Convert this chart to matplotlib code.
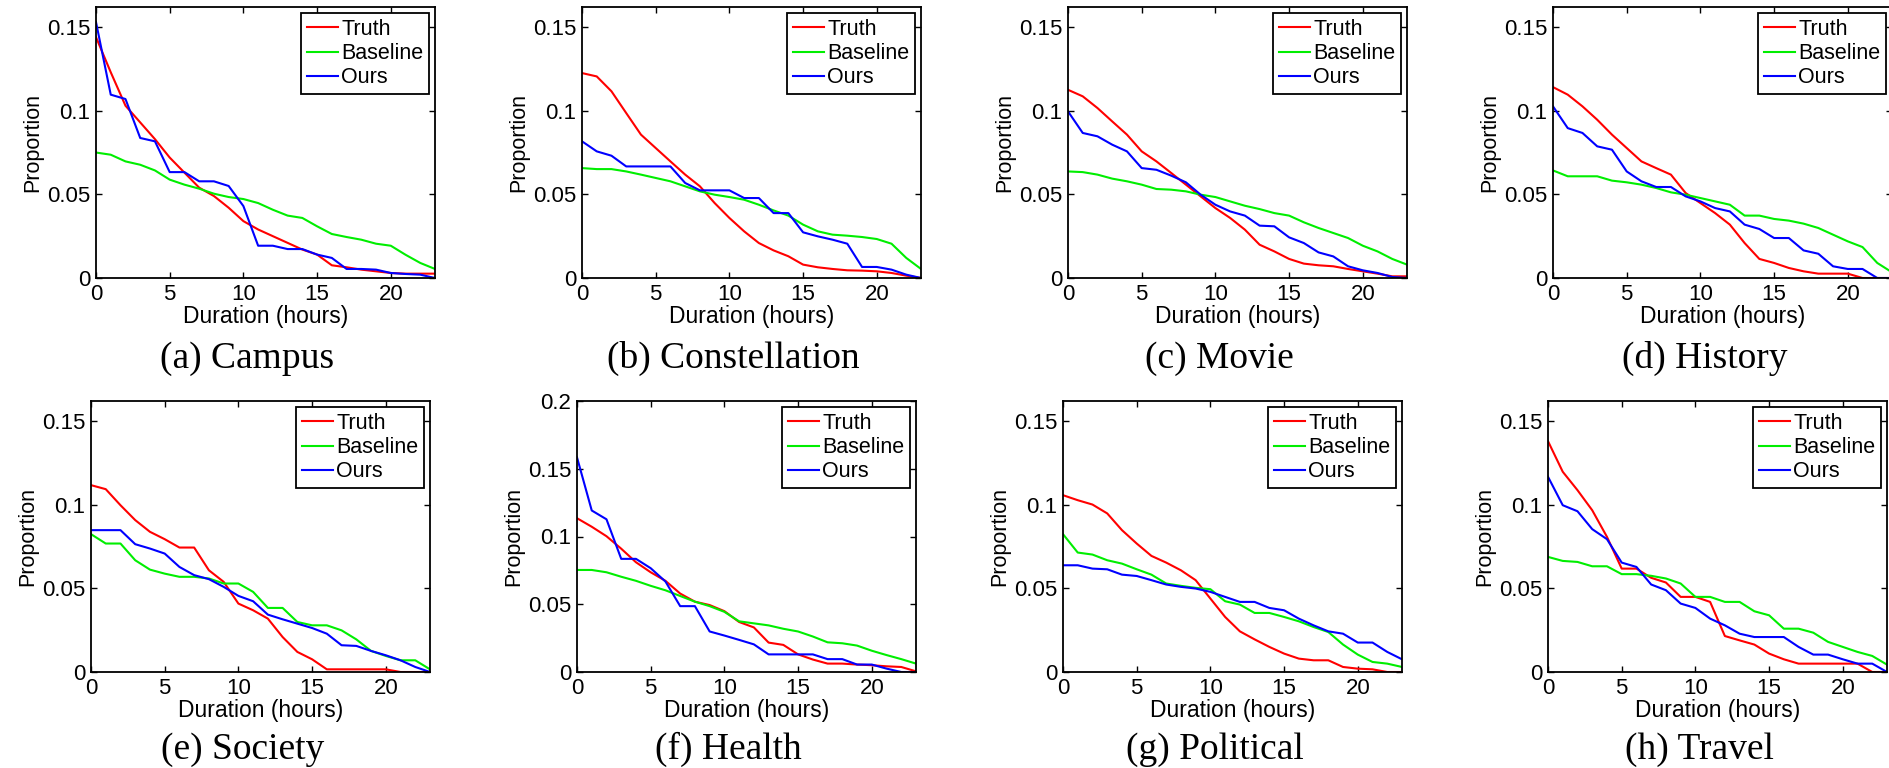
import matplotlib
matplotlib.use('Agg')
import matplotlib.pyplot as plt
from matplotlib.ticker import FuncFormatter

# hours 0..23
hours = list(range(24))

# (a) Campus
truth_a = [0.144, 0.123, 0.103, 0.093, 0.083, 0.072, 0.063, 0.054, 0.049, 0.042, 0.034, 0.029,
           0.025, 0.021, 0.017, 0.014, 0.0076, 0.0064, 0.005, 0.004, 0.003, 0.0026, 0.0026, 0.0026]
base_a = [0.075, 0.0737, 0.0697, 0.0677, 0.0643, 0.0588, 0.0558, 0.0534, 0.0504, 0.0484, 0.0472, 0.0448,
          0.0408, 0.0373, 0.0359, 0.0309, 0.0263, 0.0245, 0.0229, 0.0205, 0.0193, 0.0139, 0.009, 0.0054]
ours_a = [0.153, 0.1096, 0.107, 0.0837, 0.0817, 0.0633, 0.0633, 0.0578, 0.0578, 0.055, 0.043, 0.0193,
          0.0193, 0.0173, 0.0173, 0.014, 0.012, 0.0054, 0.0054, 0.005, 0.003, 0.0024, 0.002, 0.0]

# (b) Constellation
truth_b = [0.1225, 0.1205, 0.1116, 0.0986, 0.0857, 0.0777, 0.0697, 0.0618, 0.0548, 0.0448, 0.0359, 0.0279,
           0.0209, 0.0165, 0.013, 0.008, 0.0064, 0.0054, 0.0046, 0.0044, 0.004, 0.003, 0.0014, 0.0]
base_b = [0.0657, 0.0651, 0.0651, 0.0637, 0.0618, 0.0598, 0.0578, 0.0548, 0.0518, 0.0498, 0.0484, 0.0468,
          0.0438, 0.0404, 0.0373, 0.0319, 0.0279, 0.0259, 0.0253, 0.0245, 0.0233, 0.0205, 0.012, 0.0054]
ours_b = [0.0817, 0.0757, 0.0731, 0.0667, 0.0667, 0.0667, 0.0667, 0.0568, 0.0524, 0.0524, 0.0524, 0.0478,
          0.0478, 0.0388, 0.0388, 0.0273, 0.0249, 0.0229, 0.0205, 0.0066, 0.0066, 0.005, 0.002, 0.0]

# (c) Movie
truth_c = [0.1125, 0.1086, 0.1016, 0.0936, 0.0857, 0.0757, 0.0697, 0.0628, 0.0558, 0.0488, 0.0418, 0.0359,
           0.0289, 0.0199, 0.0159, 0.0114, 0.0086, 0.0076, 0.007, 0.0054, 0.004, 0.0026, 0.001, 0.001]
base_c = [0.0637, 0.0633, 0.0618, 0.0594, 0.0578, 0.0558, 0.0532, 0.0528, 0.0518, 0.0498, 0.0484, 0.0458,
          0.0432, 0.0412, 0.0388, 0.0373, 0.0333, 0.0299, 0.0269, 0.0239, 0.0193, 0.0159, 0.0114, 0.008]
ours_c = [0.0996, 0.0867, 0.0847, 0.0797, 0.0757, 0.0657, 0.0647, 0.0612, 0.0572, 0.0498, 0.0438, 0.0398,
          0.0373, 0.0313, 0.0309, 0.0243, 0.0209, 0.0153, 0.0129, 0.007, 0.0046, 0.003, 0.0006, 0.0]

# (d) History
truth_d = [0.1141, 0.1096, 0.1026, 0.0946, 0.0857, 0.0777, 0.0697, 0.0657, 0.0618, 0.0508, 0.0448, 0.0388,
           0.0319, 0.0209, 0.0114, 0.009, 0.006, 0.004, 0.0026, 0.0026, 0.0026, 0.0, 0.0, 0.0]
base_d = [0.0643, 0.0608, 0.0608, 0.0608, 0.0582, 0.0572, 0.0558, 0.0538, 0.0512, 0.0498, 0.0478, 0.0458,
          0.0438, 0.0373, 0.0373, 0.0353, 0.0343, 0.0325, 0.0299, 0.0259, 0.0219, 0.0185, 0.009, 0.0034]
ours_d = [0.1026, 0.0896, 0.0867, 0.0787, 0.0767, 0.0637, 0.0578, 0.0544, 0.0544, 0.0488, 0.0458, 0.0418,
          0.0398, 0.0319, 0.0293, 0.0239, 0.0239, 0.0165, 0.0145, 0.007, 0.0054, 0.0054, 0.0, 0.0]

# (e) Society
truth_e = [0.1117, 0.1093, 0.0997, 0.0908, 0.0838, 0.0794, 0.0744, 0.0744, 0.0608, 0.0539, 0.0409, 0.0369,
           0.0319, 0.0209, 0.012, 0.0076, 0.0016, 0.0016, 0.0016, 0.0016, 0.0016, 0.0, 0.0, 0.0]
base_e = [0.0824, 0.0768, 0.0768, 0.0668, 0.0612, 0.0588, 0.0569, 0.0569, 0.0559, 0.0529, 0.0529, 0.0479,
          0.0383, 0.0383, 0.0299, 0.0279, 0.0279, 0.0249, 0.0195, 0.0126, 0.0096, 0.007, 0.007, 0.0016]
ours_e = [0.0848, 0.0848, 0.0848, 0.0764, 0.0738, 0.0708, 0.0628, 0.0579, 0.0555, 0.0509, 0.0455, 0.0423,
          0.0343, 0.0315, 0.0289, 0.0263, 0.0229, 0.016, 0.0156, 0.0126, 0.01, 0.007, 0.003, 0.0]

# (f) Health
truth_f = [0.1135, 0.1072, 0.1002, 0.091, 0.081, 0.0736, 0.0673, 0.0579, 0.0519, 0.0494, 0.0449, 0.0369,
           0.0329, 0.0217, 0.02, 0.013, 0.0092, 0.0062, 0.0062, 0.0055, 0.005, 0.0042, 0.0037, 0.0005]
base_f = [0.0753, 0.0753, 0.0736, 0.0703, 0.0673, 0.0636, 0.0603, 0.0561, 0.0519, 0.0486, 0.0444, 0.0374,
          0.0359, 0.0344, 0.0319, 0.0299, 0.0262, 0.0219, 0.0212, 0.0195, 0.0157, 0.0125, 0.0095, 0.0062]
ours_f = [0.1584, 0.1192, 0.1127, 0.0835, 0.0835, 0.0766, 0.0668, 0.0486, 0.0486, 0.0299, 0.0269, 0.0237,
          0.0204, 0.013, 0.013, 0.013, 0.013, 0.0095, 0.0095, 0.0055, 0.0055, 0.0025, 0.0, 0.0]

# (g) Political
truth_g = [0.1057, 0.1027, 0.1001, 0.0948, 0.0848, 0.0768, 0.0694, 0.0654, 0.0608, 0.0549, 0.0439, 0.0329,
           0.0243, 0.0195, 0.015, 0.011, 0.008, 0.007, 0.007, 0.003, 0.002, 0.0016, 0.0, 0.0]
base_g = [0.0824, 0.0714, 0.0702, 0.0668, 0.0648, 0.0614, 0.0582, 0.0529, 0.0515, 0.0503, 0.0495, 0.0423,
          0.0403, 0.0353, 0.0353, 0.0329, 0.0303, 0.0269, 0.0239, 0.0164, 0.0104, 0.006, 0.005, 0.003]
ours_g = [0.0638, 0.0638, 0.0618, 0.0614, 0.0582, 0.0574, 0.0549, 0.0523, 0.0509, 0.0499, 0.0479, 0.0449,
          0.0419, 0.0419, 0.0383, 0.0369, 0.0319, 0.0279, 0.0243, 0.0229, 0.0176, 0.0176, 0.012, 0.0076]

# (h) Travel
truth_h = [0.138, 0.1197, 0.1087, 0.0967, 0.0808, 0.0618, 0.0618, 0.0563, 0.0535, 0.0449, 0.0449, 0.0419,
           0.0215, 0.0189, 0.0164, 0.011, 0.0076, 0.005, 0.005, 0.005, 0.005, 0.005, 0.0, 0.0]
base_h = [0.0688, 0.0664, 0.0658, 0.0632, 0.0632, 0.0585, 0.0585, 0.0575, 0.0559, 0.0529, 0.0449, 0.0449,
          0.0419, 0.0419, 0.0363, 0.0339, 0.0259, 0.0259, 0.0235, 0.018, 0.015, 0.012, 0.0096, 0.0044]
ours_h = [0.1167, 0.0997, 0.0961, 0.0854, 0.0794, 0.0654, 0.0628, 0.0523, 0.0489, 0.0409, 0.0383, 0.0319,
          0.0279, 0.0229, 0.0209, 0.0209, 0.0209, 0.015, 0.0104, 0.0104, 0.0076, 0.005, 0.005, 0.0]

captions = ['(a) Campus', '(b) Constellation', '(c) Movie', '(d) History',
            '(e) Society', '(f) Health', '(g) Political', '(h) Travel']
truths = [truth_a, truth_b, truth_c, truth_d, truth_e, truth_f, truth_g, truth_h]
bases = [base_a, base_b, base_c, base_d, base_e, base_f, base_g, base_h]
ours = [ours_a, ours_b, ours_c, ours_d, ours_e, ours_f, ours_g, ours_h]
ytop = [0.162, 0.162, 0.162, 0.162, 0.162, 0.2, 0.162, 0.162]

plt.rcParams['font.family'] = ['Liberation Sans', 'DejaVu Sans']

W, H = 1890, 768
fig = plt.figure(figsize=(W / 100, H / 100), dpi=100)

# axes boxes in pixels (left, top) for each panel
lefts = [96, 582, 1068, 1553, 91, 577, 1063, 1548]
tops = [7, 7, 7, 7, 401, 401, 401, 401]
aw, ah = 339, 271
cap_y = [368, 368, 368, 368, 759, 759, 759, 759]

fmt = FuncFormatter(lambda v, p: '%g' % round(v, 3))

for i in range(8):
    l, t = lefts[i], tops[i]
    ax = fig.add_axes([l / W, 1 - (t + ah) / H, aw / W, ah / H])
    ax.plot(hours, truths[i], color='#ff0000', lw=1.5, label='Truth')
    ax.plot(hours, bases[i], color='#00ee00', lw=1.5, label='Baseline')
    ax.plot(hours, ours[i], color='#0000ff', lw=1.5, label='Ours')
    ax.set_xlim(0, 23)
    ax.set_ylim(0, ytop[i])
    ax.set_xticks([0, 5, 10, 15, 20])
    if ytop[i] > 0.19:
        ax.set_yticks([0, 0.05, 0.1, 0.15, 0.2])
    else:
        ax.set_yticks([0, 0.05, 0.1, 0.15])
    ax.yaxis.set_major_formatter(fmt)
    ax.tick_params(direction='in', top=True, right=True, length=4, width=1.0,
                   labelsize=16, pad=4)
    for s in ax.spines.values():
        s.set_linewidth(1.3)
    ax.set_xlabel('Duration (hours)', fontsize=16.5, labelpad=0)
    ax.set_ylabel('Proportion', fontsize=15.5, labelpad=3)
    leg = ax.legend(loc='upper right', fontsize=15.5, fancybox=False, framealpha=1,
                    edgecolor='k', handlelength=1.45, handletextpad=0.15,
                    labelspacing=0.15, borderpad=0.25, borderaxespad=0.3)
    leg.get_frame().set_linewidth(1.3)
    fig.text((l + aw / 2 - 18) / W, 1 - cap_y[i] / H, captions[i],
             family='Liberation Serif', fontsize=27, ha='center', va='baseline')

fig.savefig('out.png', dpi=100)
